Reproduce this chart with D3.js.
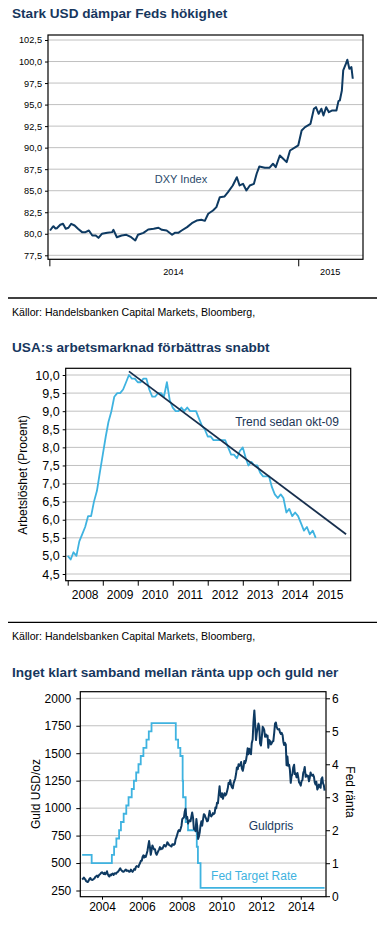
<!DOCTYPE html>
<html>
<head>
<meta charset="utf-8">
<script src="https://cdn.jsdelivr.net/npm/d3@7"></script>
<style>
  body { margin: 0; background: #fff; }
  svg { display: block; font-family: "Liberation Sans", Arial, sans-serif; }
</style>
</head>
<body>
<div id="chart"></div>
<script>
// ---- data: chart 1 (DXY index) ----
const dxyDates = ["2014-01-02","2014-01-05","2014-01-07","2014-01-10","2014-01-12","2014-01-17","2014-01-21","2014-01-25","2014-01-29","2014-02-02","2014-02-07","2014-02-12","2014-02-18","2014-02-23","2014-02-28","2014-03-05","2014-03-10","2014-03-14","2014-03-19","2014-03-27","2014-04-03","2014-04-05","2014-04-10","2014-04-17","2014-04-24","2014-05-01","2014-05-07","2014-05-11","2014-05-19","2014-05-26","2014-06-03","2014-06-10","2014-06-15","2014-06-22","2014-06-30","2014-07-04","2014-07-09","2014-07-14","2014-07-22","2014-07-29","2014-08-05","2014-08-12","2014-08-17","2014-08-22","2014-08-29","2014-09-03","2014-09-08","2014-09-15","2014-09-20","2014-09-27","2014-10-03","2014-10-07","2014-10-12","2014-10-17","2014-10-22","2014-10-28","2014-11-01","2014-11-05","2014-11-13","2014-11-20","2014-11-25","2014-11-29","2014-12-05","2014-12-10","2014-12-15","2014-12-20","2014-12-28","2015-01-01","2015-01-06","2015-01-11","2015-01-19","2015-01-24","2015-01-27","2015-01-31","2015-02-04","2015-02-07","2015-02-11","2015-02-15","2015-02-20","2015-02-26","2015-03-01","2015-03-03","2015-03-06","2015-03-08","2015-03-12","2015-03-14","2015-03-17","2015-03-20","2015-03-22"];
const dxyValues = [80.38,80.7,80.88,80.6,80.65,81.05,81.16,80.58,80.7,81.16,80.96,80.58,80.19,80.19,80.38,79.8,79.8,79.53,80.0,80.11,80.19,80.46,79.6,79.8,79.88,79.6,79.22,79.88,80.11,80.5,80.58,80.7,80.46,80.38,79.88,80.11,80.11,80.38,80.77,81.23,81.54,81.63,81.5,82.32,82.7,83.09,84.25,84.33,84.83,85.61,86.57,85.61,85.8,85.03,85.61,85.8,86.97,87.82,87.67,87.67,88.13,87.74,89.09,88.71,88.32,89.67,90.06,90.26,92.0,92.38,92.77,94.52,94.7,93.93,94.52,93.74,94.7,94.12,94.32,94.32,95.4,95.48,96.64,98.97,99.75,100.2,99.16,99.35,98.0];
const dxyTicks = [77.5, 80, 82.5, 85, 87.5, 90, 92.5, 95, 97.5, 100, 102.5];
const dxyYearTicks = ["2014-01-01", "2015-01-01"];
const dxyYearLabels = [["2014", "2014-07-02"], ["2015", "2015-02-17"]];

// ---- data: chart 2 (US unemployment, monthly from Jan 2008) ----
const unempStartYear = 2008;
const unempValues = [5.0,4.9,5.1,5.0,5.4,5.6,5.8,6.1,6.1,6.5,6.8,7.3,
  7.8,8.3,8.7,9.0,9.4,9.5,9.5,9.6,9.8,10.0,9.9,9.9,
  9.8,9.8,9.9,9.9,9.6,9.4,9.4,9.5,9.5,9.4,9.8,9.3,
  9.1,9.0,9.0,9.1,9.0,9.1,9.0,9.0,9.0,8.8,8.6,8.5,
  8.3,8.3,8.2,8.2,8.2,8.2,8.2,8.0,7.8,7.8,7.7,7.9,
  8.0,7.7,7.5,7.6,7.5,7.5,7.3,7.2,7.2,7.2,6.9,6.7,
  6.6,6.7,6.6,6.2,6.3,6.1,6.2,6.1,5.9,5.7,5.8,5.6,
  5.7,5.5];
const trendDates = ["2009-10-01", "2015-12-15"];
const trendValues = [10.1, 5.6];
const unempTicks = [4.5, 5, 5.5, 6, 6.5, 7, 7.5, 8, 8.5, 9, 9.5, 10];
const unempYears = [2008, 2009, 2010, 2011, 2012, 2013, 2014, 2015];

// ---- data: chart 3 (gold, semi-monthly: 1st and 15th of each month) ----
const goldYears = [2003,2004,2005,2006,2007,2008,2009,2010,2011,2012,2013,2014,2015];
const goldValues = [
  [350,356,368,358,350,335,330,327,340,355,364,350,346,348,355,360,375,380,385,372,385,395,400,410],
  [416,408,400,412,398,405,425,400,385,378,395,388,400,405,392,405,408,402,415,418,428,440,452,438],
  [430,422,420,428,435,440,428,432,428,420,425,440,428,420,432,445,440,465,472,470,465,485,500,520],
  [520,555,570,550,565,555,585,610,660,700,640,575,620,660,640,625,625,590,575,590,610,625,645,625],
  [635,630,650,665,660,650,665,690,680,665,660,655,650,670,670,665,675,715,735,760,790,800,790,810],
  [840,900,910,915,970,995,905,920,860,880,890,880,925,960,910,810,810,790,900,840,720,740,780,840],
  [880,840,900,945,940,920,900,880,885,925,975,935,925,935,955,945,955,1005,1000,1050,1045,1120,1200,1120],
  [1100,1135,1085,1115,1135,1115,1125,1150,1180,1230,1220,1255,1210,1190,1180,1225,1250,1270,1315,1370,1355,1400,1385,1395],
  [1420,1360,1340,1375,1430,1410,1435,1480,1545,1490,1540,1525,1490,1590,1625,1780,1890,1780,1620,1680,1730,1770,1740,1590],
  [1570,1640,1740,1730,1710,1650,1670,1650,1660,1550,1620,1610,1580,1590,1610,1610,1690,1770,1780,1740,1720,1715,1720,1690],
  [1675,1685,1665,1605,1575,1595,1580,1390,1470,1385,1395,1350,1230,1290,1310,1370,1395,1310,1315,1280,1320,1285,1235,1225],
  [1205,1245,1255,1320,1340,1375,1285,1305,1290,1295,1245,1275,1325,1300,1295,1305,1285,1235,1215,1240,1170,1185,1215,1195],
  [1185,1265,1280,1225,1210,1160]
];
// Fed target rate, change dates
const fedDates = ["2003-01-01","2003-06-25","2004-06-30","2004-08-10","2004-09-21","2004-11-10","2004-12-14","2005-02-02","2005-03-22","2005-05-03","2005-06-30","2005-08-09","2005-09-20","2005-11-01","2005-12-13","2006-01-31","2006-03-28","2006-05-10","2006-06-29","2007-09-18","2007-10-31","2007-12-11","2008-01-22","2008-01-30","2008-03-18","2008-04-30","2008-10-08","2008-10-29","2008-12-16","2015-03-15"];
const fedRates = [1.25,1.0,1.25,1.5,1.75,2.0,2.25,2.5,2.75,3.0,3.25,3.5,3.75,4.0,4.25,4.5,4.75,5.0,5.25,4.75,4.5,4.25,3.5,3.0,2.25,2.0,1.5,1.0,0.25,0.25];
const goldTicks = [250, 500, 750, 1000, 1250, 1500, 1750, 2000];
const fedTicks = [0, 1, 2, 3, 4, 5, 6];
const goldYearTicks = [2004, 2006, 2008, 2010, 2012, 2014];

// ---- setup ----
const width = 377, height = 925;
const navy = "#0e3a62";
const lightBlue = "#3fb3e0";
const titleColor = "#17375e";
const gridColor = "#c0c0c0";
const parse = d3.timeParse("%Y-%m-%d");
const comma1 = d => d3.format(".1f")(d).replace(".", ",");
const plain = d3.format("d");

const svg = d3.select("#chart").append("svg")
  .attr("width", width)
  .attr("height", height)
  .attr("viewBox", [0, 0, width, height]);

function title(text, y) {
  svg.append("text").attr("x", 12).attr("y", y)
    .attr("font-size", 13.6).attr("font-weight", "bold").attr("fill", titleColor)
    .text(text);
}
function source(y) {
  svg.append("text").attr("x", 12).attr("y", y)
    .attr("font-size", 10.6).attr("fill", "#000")
    .text("Källor: Handelsbanken Capital Markets, Bloomberg,");
}
function separator(y) {
  svg.append("line").attr("x1", 8).attr("x2", width).attr("y1", y).attr("y2", y)
    .attr("stroke", "#000").attr("stroke-width", 1.3);
}
function grid(y, ticks, x0, x1) {
  svg.append("g").selectAll("line").data(ticks).join("line")
    .attr("x1", x0).attr("x2", x1)
    .attr("y1", d => y(d)).attr("y2", d => y(d))
    .attr("stroke", gridColor).attr("stroke-width", 1);
}
function box(x0, y0, x1, y1) {
  svg.append("rect").attr("x", x0).attr("y", y0)
    .attr("width", x1 - x0).attr("height", y1 - y0)
    .attr("fill", "none").attr("stroke", "#000").attr("stroke-width", 1.2);
}
function styleAxis(g, fs) {
  g.select(".domain").remove();
  g.selectAll("line").attr("stroke", "#000").attr("stroke-width", 1);
  g.selectAll("text").attr("font-size", fs).attr("fill", "#000")
    .attr("font-family", "Liberation Sans, Arial, sans-serif");
}

// ================= Chart 1 =================
title("Stark USD dämpar Feds hökighet", 18);
{
  const L = 48, R = 363, T = 35, B = 259.3;
  const x = d3.scaleTime().domain([parse("2013-12-30"), parse("2015-04-06")]).range([L, R]);
  const y = d3.scaleLinear().domain([77.5, 102.5]).range([255.3, 40]);
  grid(y, dxyTicks, L, R);

  svg.append("g").attr("transform", `translate(${L},0)`)
    .call(d3.axisLeft(y).tickValues(dxyTicks).tickSize(3).tickPadding(3).tickFormat(comma1))
    .call(g => styleAxis(g, 9.2));

  svg.append("g").attr("transform", `translate(0,${B})`)
    .call(d3.axisBottom(x).tickValues(dxyYearTicks.map(parse)).tickSize(7).tickFormat(""))
    .call(g => styleAxis(g, 9));
  svg.append("g").selectAll("text").data(dxyYearLabels).join("text")
    .attr("x", d => x(parse(d[1]))).attr("y", 275)
    .attr("text-anchor", "middle").attr("font-size", 9.2).text(d => d[0]);

  const line = d3.line().x((d, i) => x(parse(dxyDates[i]))).y(d => y(d));
  svg.append("path").datum(dxyValues).attr("d", line)
    .attr("fill", "none").attr("stroke", navy).attr("stroke-width", 2)
    .attr("stroke-linejoin", "round");
  box(L, T, R, B);

  svg.append("text").attr("x", 181).attr("y", 183)
    .attr("text-anchor", "middle").attr("font-size", 11).attr("fill", "#2c4a6b")
    .text("DXY Index");
}
separator(298);
source(316);

// ================= Chart 2 =================
title("USA:s arbetsmarknad förbättras snabbt", 351.5);
{
  const L = 65.7, R = 350.7, T = 368.3, B = 580.7;
  const x = d3.scaleTime().domain([parse("2007-12-11"), parse("2016-02-01")]).range([L, R]);
  const y = d3.scaleLinear().domain([4.5, 10]).range([574, 375]);
  grid(y, unempTicks, L, R);

  svg.append("g").attr("transform", `translate(${L},0)`)
    .call(d3.axisLeft(y).tickValues(unempTicks).tickSize(3).tickPadding(3).tickFormat(comma1))
    .call(g => styleAxis(g, 12.5));

  svg.append("g").attr("transform", `translate(0,${B})`)
    .call(d3.axisBottom(x).tickValues(unempYears.map(yr => new Date(yr, 0, 1))).tickSize(5).tickFormat(""))
    .call(g => styleAxis(g, 12));
  svg.append("g").selectAll("text").data(unempYears).join("text")
    .attr("x", d => x(new Date(d, 6, 1))).attr("y", 598.5)
    .attr("text-anchor", "middle").attr("font-size", 12).text(d => d);

  const line = d3.line().x((d, i) => x(new Date(unempStartYear, i, 1))).y(d => y(d));
  svg.append("path").datum(unempValues).attr("d", line)
    .attr("fill", "none").attr("stroke", lightBlue).attr("stroke-width", 1.8)
    .attr("stroke-linejoin", "round");

  const tline = d3.line().x((d, i) => x(parse(trendDates[i]))).y(d => y(d));
  svg.append("path").datum(trendValues).attr("d", tline)
    .attr("fill", "none").attr("stroke", "#172f4d").attr("stroke-width", 1.8);
  box(L, T, R, B);

  svg.append("text").attr("x", 287).attr("y", 425.5)
    .attr("text-anchor", "middle").attr("font-size", 12).attr("fill", "#1a3556")
    .text("Trend sedan okt-09");

  svg.append("text").attr("transform", "translate(22.5,475) rotate(-90)")
    .attr("text-anchor", "middle").attr("dy", "0.35em").attr("font-size", 12)
    .text("Arbetslöshet (Procent)");
}
separator(622.3);
source(640);

// ================= Chart 3 =================
title("Inget klart samband mellan ränta upp och guld ner", 676.5);
{
  const L = 80.3, R = 326, T = 691.7, B = 896.7;
  const x = d3.scaleTime().domain([parse("2002-11-28"), parse("2015-04-10")]).range([L, R]);
  const yL = d3.scaleLinear().domain([250, 2000]).range([890.5, 698.3]);
  const yR = d3.scaleLinear().domain([0, 6]).range([896.2, 698.3]);
  grid(yL, goldTicks, L, R);

  svg.append("g").attr("transform", `translate(${L},0)`)
    .call(d3.axisLeft(yL).tickValues(goldTicks).tickSize(4).tickPadding(5).tickFormat(plain))
    .call(g => styleAxis(g, 12));
  svg.append("g").attr("transform", `translate(${R},0)`)
    .call(d3.axisRight(yR).tickValues(fedTicks).tickSize(4).tickPadding(2).tickFormat(plain))
    .call(g => styleAxis(g, 12));
  svg.append("g").attr("transform", `translate(0,${B})`)
    .call(d3.axisBottom(x).tickValues(goldYearTicks.map(yr => new Date(yr, 0, 1)))
      .tickSize(3).tickPadding(3).tickFormat(d3.timeFormat("%Y")))
    .call(g => styleAxis(g, 12));

  const goldPts = [];
  goldYears.forEach((yr, k) => goldValues[k].forEach((v, i) =>
    goldPts.push([new Date(yr, Math.floor(i / 2), i % 2 ? 15 : 1), v])));

  const fedLine = d3.line().curve(d3.curveStepAfter)
    .x((d, i) => x(parse(fedDates[i]))).y(d => yR(d));
  svg.append("path").datum(fedRates).attr("d", fedLine)
    .attr("fill", "none").attr("stroke", lightBlue).attr("stroke-width", 1.8);

  const goldLine = d3.line().x(d => x(d[0])).y(d => yL(d[1]));
  svg.append("path").datum(goldPts).attr("d", goldLine)
    .attr("fill", "none").attr("stroke", navy).attr("stroke-width", 2)
    .attr("stroke-linejoin", "round");
  box(L, T, R, B);

  svg.append("text").attr("x", 271).attr("y", 830)
    .attr("text-anchor", "middle").attr("font-size", 12).attr("fill", "#1a3a60")
    .text("Guldpris");
  svg.append("text").attr("x", 254).attr("y", 880)
    .attr("text-anchor", "middle").attr("font-size", 12).attr("fill", lightBlue)
    .text("Fed Target Rate");

  svg.append("text").attr("transform", "translate(36,794) rotate(-90)")
    .attr("text-anchor", "middle").attr("dy", "0.35em").attr("font-size", 12)
    .text("Guld USD/oz");
  svg.append("text").attr("transform", "translate(350,792) rotate(90)")
    .attr("text-anchor", "middle").attr("dy", "0.35em").attr("font-size", 12)
    .text("Fed ränta");
}
</script>
</body>
</html>
